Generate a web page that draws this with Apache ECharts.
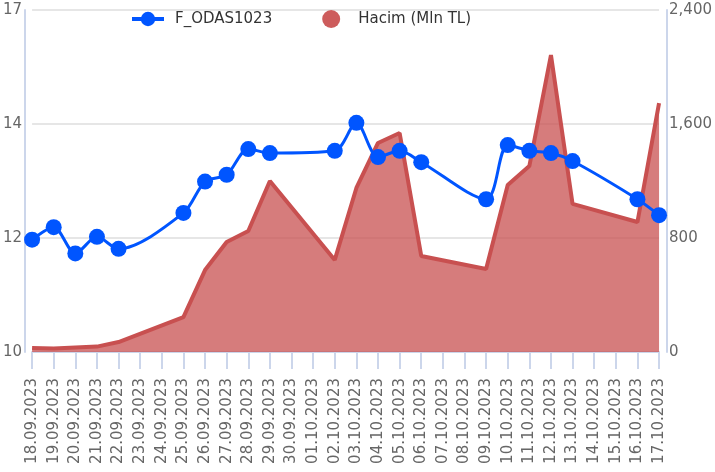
<!DOCTYPE html>
<html>
<head>
<meta charset="utf-8">
<script src="https://cdn.jsdelivr.net/npm/echarts@6/dist/echarts.min.js"></script>
<style>
  html, body { margin: 0; padding: 0; background: #fff; }
  #chart { width: 715px; height: 472px; }
</style>
</head>
<body>
<div id="chart"></div>
<script>
var dates = ['18.09.2023', '19.09.2023', '20.09.2023', '21.09.2023', '22.09.2023', '23.09.2023',
  '24.09.2023', '25.09.2023', '26.09.2023', '27.09.2023', '28.09.2023', '29.09.2023',
  '30.09.2023', '01.10.2023', '02.10.2023', '03.10.2023', '04.10.2023', '05.10.2023',
  '06.10.2023', '07.10.2023', '08.10.2023', '09.10.2023', '10.10.2023', '11.10.2023',
  '12.10.2023', '13.10.2023', '14.10.2023', '15.10.2023', '16.10.2023', '17.10.2023']

// price (left axis), null on weekends
var price = [11.97, 12.19, 11.73, 12.02, 11.81, null, null, 12.44, 12.99, 13.11, 13.56, 13.49,
  null, null, 13.53, 14.02, 13.42, 13.53, 13.33, null, null, 12.68, 13.63, 13.53,
  13.49, 13.35, null, null, 12.68, 12.40]

// volume, mln TL (right axis)
var volume = [28, 25, 32, 38, 70, null, null, 245, 575, 772, 849, 1200,
  null, null, 646, 1151, 1467, 1537, 674, null, null, 582, 1172, 1305,
  2084, 1039, null, null, 912, 1747]

var leftTicks = { 10: '10', 12: '12', 14: '14', 16: '17' }

var chart = echarts.init(document.getElementById('chart'))
var axisColor = '#ccd6eb'
var labelFont = 'DejaVu Sans'

chart.setOption({
  animation: false,
  backgroundColor: '#fff',
  textStyle: { fontFamily: labelFont },
  legend: {
    top: 5,
    left: 125,
    itemGap: 50,
    itemWidth: 32,
    itemHeight: 18,
    lineStyle: { width: 4 },
    textStyle: { fontSize: 15, color: '#333', fontFamily: labelFont, padding: [0, 0, 0, 6] },
    data: [
      { name: 'F_ODAS1023' },
      { name: 'Hacim (Mln TL)', icon: 'circle' }
    ]
  },
  grid: { left: 32, right: 54, top: 10, bottom: 120 },
  xAxis: {
    type: 'category',
    data: dates,
    boundaryGap: false,
    axisLine: { lineStyle: { color: axisColor, width: 2 } },
    axisTick: { show: true, length: 17, alignWithLabel: true, lineStyle: { color: axisColor, width: 2 } },
    axisLabel: { rotate: 90, interval: 0, margin: 26, color: '#666', fontSize: 15, fontFamily: labelFont },
    splitLine: { show: false }
  },
  yAxis: [
    {
      type: 'value',
      min: 10,
      max: 16,
      interval: 2,
      offset: 7,
      axisLine: { show: true, lineStyle: { color: axisColor, width: 2 } },
      axisTick: { show: false },
      axisLabel: {
        margin: 3, color: '#666', fontSize: 15, fontFamily: labelFont,
        formatter: function (v) { return leftTicks[v] || '' }
      },
      splitLine: { show: true, lineStyle: { color: '#e6e6e6', width: 2 } }
    },
    {
      type: 'value',
      min: 0,
      max: 2400,
      interval: 800,
      offset: 8,
      position: 'right',
      axisLine: { show: true, lineStyle: { color: axisColor, width: 2 } },
      axisTick: { show: false },
      axisLabel: {
        margin: 2, color: '#666', fontSize: 15, fontFamily: labelFont,
        formatter: function (v) { return v.toLocaleString('en-US') }
      },
      splitLine: { show: false }
    }
  ],
  series: [
    {
      name: 'Hacim (Mln TL)',
      type: 'line',
      yAxisIndex: 1,
      data: volume,
      connectNulls: true,
      showSymbol: false,
      symbol: 'circle',
      itemStyle: { color: '#cd5c5c' },
      lineStyle: { color: '#c85050', width: 4 },
      areaStyle: { color: '#c85050', opacity: 0.75 },
      z: 1
    },
    {
      name: 'F_ODAS1023',
      type: 'line',
      yAxisIndex: 0,
      data: price,
      connectNulls: true,
      smooth: 0.3,
      symbol: 'circle',
      symbolSize: 16,
      showAllSymbol: true,
      itemStyle: { color: '#0055ff' },
      lineStyle: { color: '#0055ff', width: 3 },
      z: 3
    }
  ]
})
</script>
</body>
</html>
